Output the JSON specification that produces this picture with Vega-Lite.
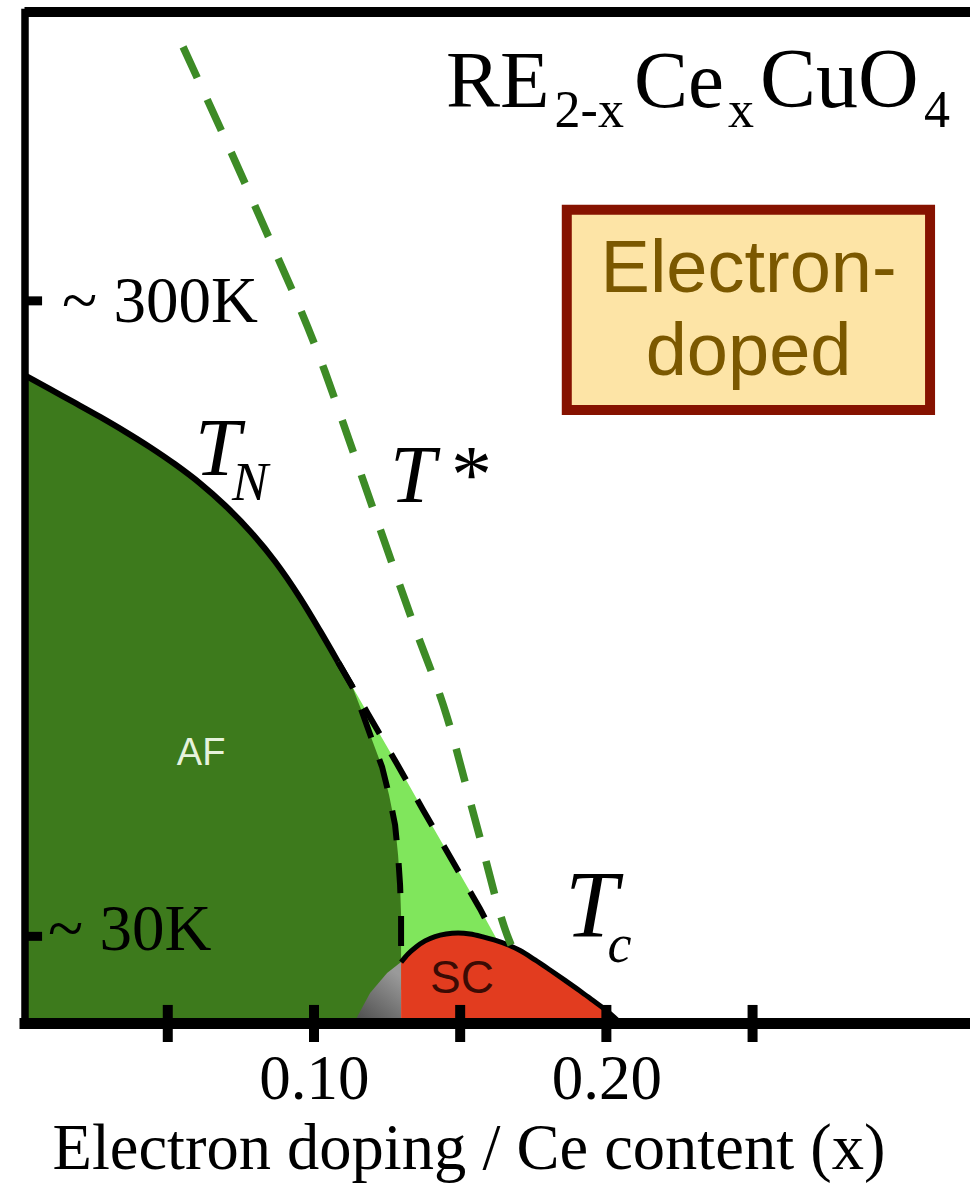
{
  "$schema": "https://vega.github.io/schema/vega-lite/v6.json",
  "width": 945.5,
  "height": 1011,
  "autosize": {"type": "none"},
  "padding": {"left": 24.5, "top": 12, "right": 0, "bottom": 164},
  "background": "white",
  "config": {"view": {"stroke": null}, "axis": {"grid": false}},
  "datasets": {
    "lg": [
      {"i": 0, "x": 0.10824, "T": 150.0}, {"i": 1, "x": 0.11850, "T": 128.4}, {"i": 2, "x": 0.12842, "T": 107.6},
      {"i": 3, "x": 0.13731, "T": 88.5}, {"i": 4, "x": 0.14757, "T": 66.9}, {"i": 5, "x": 0.15681, "T": 47.4},
      {"i": 6, "x": 0.16228, "T": 35.3}, {"i": 7, "x": 0.12979, "T": 13.7}, {"i": 8, "x": 0.10893, "T": 134.2}
    ],
    "af": [
      {"i": 0, "x": 0.001, "T": 0}, {"i": 1, "x": 0.001, "T": 269.2}, {"i": 2, "x": 0.00975, "T": 263.3},
      {"i": 3, "x": 0.01830, "T": 257.6}, {"i": 4, "x": 0.02685, "T": 251.8}, {"i": 5, "x": 0.03540, "T": 245.7},
      {"i": 6, "x": 0.04395, "T": 239.2}, {"i": 7, "x": 0.05250, "T": 232.1}, {"i": 8, "x": 0.06105, "T": 224.2},
      {"i": 9, "x": 0.06960, "T": 215.0}, {"i": 10, "x": 0.07815, "T": 204.3}, {"i": 11, "x": 0.08670, "T": 191.7},
      {"i": 12, "x": 0.09525, "T": 176.6}, {"i": 13, "x": 0.10209, "T": 162.9}, {"i": 14, "x": 0.10824, "T": 150.0},
      {"i": 15, "x": 0.11303, "T": 140.0}, {"i": 16, "x": 0.11645, "T": 129.2}, {"i": 17, "x": 0.11987, "T": 117.6},
      {"i": 18, "x": 0.12329, "T": 106.4}, {"i": 19, "x": 0.12568, "T": 94.7}, {"i": 20, "x": 0.12774, "T": 82.3},
      {"i": 21, "x": 0.12876, "T": 69.8}, {"i": 22, "x": 0.12945, "T": 57.3}, {"i": 23, "x": 0.12979, "T": 44.9},
      {"i": 24, "x": 0.12979, "T": 25.3}, {"i": 25, "x": 0.12979, "T": 0}
    ],
    "tn": [
      {"i": 1, "x": 0.001, "T": 269.2}, {"i": 2, "x": 0.00975, "T": 263.3}, {"i": 3, "x": 0.01830, "T": 257.6},
      {"i": 4, "x": 0.02685, "T": 251.8}, {"i": 5, "x": 0.03540, "T": 245.7}, {"i": 6, "x": 0.04395, "T": 239.2},
      {"i": 7, "x": 0.05250, "T": 232.1}, {"i": 8, "x": 0.06105, "T": 224.2}, {"i": 9, "x": 0.06960, "T": 215.0},
      {"i": 10, "x": 0.07815, "T": 204.3}, {"i": 11, "x": 0.08670, "T": 191.7}, {"i": 12, "x": 0.09525, "T": 176.6},
      {"i": 13, "x": 0.10209, "T": 162.9}, {"i": 14, "x": 0.10824, "T": 150.0}
    ],
    "gr": [
      {"i": 0, "x": 0.11406, "T": 0}, {"i": 1, "x": 0.11474, "T": 2.5}, {"i": 2, "x": 0.11919, "T": 12.5},
      {"i": 3, "x": 0.12500, "T": 20.8}, {"i": 4, "x": 0.12979, "T": 25.3}, {"i": 5, "x": 0.12979, "T": 0}
    ],
    "sc": [
      {"i": 0, "x": 0.12979, "T": 0},
      {"i": 1, "x": 0.12979, "T": 25.3}, {"i": 2, "x": 0.13218, "T": 28.7}, {"i": 3, "x": 0.13492, "T": 31.6},
      {"i": 4, "x": 0.13799, "T": 34.1}, {"i": 5, "x": 0.14141, "T": 35.9}, {"i": 6, "x": 0.14518, "T": 37.0},
      {"i": 7, "x": 0.14928, "T": 37.4}, {"i": 8, "x": 0.15339, "T": 37.0}, {"i": 9, "x": 0.15749, "T": 35.9},
      {"i": 10, "x": 0.16160, "T": 34.5}, {"i": 11, "x": 0.16604, "T": 32.6}, {"i": 12, "x": 0.17049, "T": 30.1},
      {"i": 13, "x": 0.17561, "T": 26.2}, {"i": 14, "x": 0.18075, "T": 22.0}, {"i": 15, "x": 0.18588, "T": 17.7},
      {"i": 16, "x": 0.19101, "T": 13.3}, {"i": 17, "x": 0.19545, "T": 9.3}, {"i": 18, "x": 0.19956, "T": 5.6},
      {"i": 19, "x": 0.20263, "T": 2.5}, {"i": 20, "x": 0.20469, "T": 0}
    ],
    "dome": [
      {"i": 1, "x": 0.12979, "T": 25.3}, {"i": 2, "x": 0.13218, "T": 28.7}, {"i": 3, "x": 0.13492, "T": 31.6},
      {"i": 4, "x": 0.13799, "T": 34.1}, {"i": 5, "x": 0.14141, "T": 35.9}, {"i": 6, "x": 0.14518, "T": 37.0},
      {"i": 7, "x": 0.14928, "T": 37.4}, {"i": 8, "x": 0.15339, "T": 37.0}, {"i": 9, "x": 0.15749, "T": 35.9},
      {"i": 10, "x": 0.16160, "T": 34.5}, {"i": 11, "x": 0.16604, "T": 32.6}, {"i": 12, "x": 0.17049, "T": 30.1},
      {"i": 13, "x": 0.17561, "T": 26.2}, {"i": 14, "x": 0.18075, "T": 22.0}, {"i": 15, "x": 0.18588, "T": 17.7},
      {"i": 16, "x": 0.19101, "T": 13.3}, {"i": 17, "x": 0.19545, "T": 9.3}, {"i": 18, "x": 0.19956, "T": 5.6},
      {"i": 19, "x": 0.20263, "T": 2.5}, {"i": 20, "x": 0.20469, "T": 0}
    ],
    "up": [
      {"i": 0, "x": 0.10824, "T": 150.0}, {"i": 1, "x": 0.11850, "T": 128.4}, {"i": 2, "x": 0.12842, "T": 107.6},
      {"i": 3, "x": 0.13731, "T": 88.5}, {"i": 4, "x": 0.14757, "T": 66.9}, {"i": 5, "x": 0.15681, "T": 47.4},
      {"i": 6, "x": 0.16142, "T": 36.6}
    ],
    "inn": [
      {"i": 0, "x": 0.10824, "T": 150.0}, {"i": 1, "x": 0.11303, "T": 140.0}, {"i": 2, "x": 0.11645, "T": 129.2},
      {"i": 3, "x": 0.11987, "T": 117.6}, {"i": 4, "x": 0.12329, "T": 106.4}, {"i": 5, "x": 0.12568, "T": 94.7},
      {"i": 6, "x": 0.12774, "T": 82.3}, {"i": 7, "x": 0.12876, "T": 69.8}, {"i": 8, "x": 0.12945, "T": 57.3},
      {"i": 9, "x": 0.12979, "T": 44.9}, {"i": 10, "x": 0.12979, "T": 25.3}
    ],
    "ts": [
      {"i": 0, "x": 0.05523, "T": 405.5}, {"i": 1, "x": 0.08088, "T": 336.5}, {"i": 2, "x": 0.10380, "T": 270.5},
      {"i": 3, "x": 0.11200, "T": 242.2}, {"i": 4, "x": 0.13355, "T": 167.4}, {"i": 5, "x": 0.14552, "T": 127.1},
      {"i": 6, "x": 0.15578, "T": 81.4}, {"i": 7, "x": 0.16604, "T": 36.6}, {"i": 8, "x": 0.16741, "T": 32.4}
    ],
    "box": [{"x": 0.18646, "x2": 0.31070, "T": 337.8, "T2": 254.7}],
    "boxText": [{"label": "Electron-", "x": 0.24863, "T": 303.7}, {"label": "doped", "x": 0.24863, "T": 269.2}],
    "serifBig": [{"label": "RE", "x": 0.14518, "T": 380.5}, {"label": "Ce", "x": 0.20947, "T": 380.5}],
    "serifBig2": [{"label": "CuO", "x": 0.25257, "T": 380.5}],
    "serifSub": [{"label": "2-x", "x": 0.18229, "T": 372.2}, {"label": "x", "x": 0.24162, "T": 372.2}, {"label": "4", "x": 0.30865, "T": 372.2}],
    "ylab": [{"label": "~ 300K", "x": 0.01385, "T": 291.2}, {"label": "~ 30K", "x": 0.00906, "T": 30.3}],
    "itBig": [{"label": "T", "x": 0.05934, "T": 227.7}, {"label": "T", "x": 0.12603, "T": 216.4}],
    "itTc": [{"label": "T", "x": 0.18588, "T": 35.7}],
    "itSub": [{"label": "N", "x": 0.07199, "T": 217.3}, {"label": "c", "x": 0.20041, "T": 25.3}],
    "star": [{"label": "*", "x": 0.14689, "T": 216.4}],
    "afText": [{"label": "AF", "x": 0.06139, "T": 107.2}],
    "scText": [{"label": "SC", "x": 0.15065, "T": 12.5}],
    "xticks": [{"x": 0.05}, {"x": 0.10}, {"x": 0.15}, {"x": 0.20}, {"x": 0.25}],
    "yticks": [{"T": 300}, {"T": 36}]
  },
  "layer": [
    {
      "data": {"name": "lg"},
      "mark": {"type": "line", "fill": "#80e65c", "strokeWidth": 0},
      "encoding": {
        "x": {
          "field": "x", "type": "quantitative",
          "scale": {"domain": [0.001, 0.32436], "nice": false, "zero": false},
          "axis": {
            "values": [0.1, 0.2], "format": ".2f",
            "ticks": false, "tickSize": 0,
            "labelFont": "Liberation Serif", "labelFontSize": 63, "labelColor": "#000000",
            "labelBaseline": "alphabetic", "labelPadding": 75, "labelFlush": false, "labelOverlap": false, "labelBound": false,
            "domainWidth": 11, "domainColor": "#000000", "domainCap": "square",
            "title": "Electron doping / Ce content (x)",
            "titleFont": "Liberation Serif", "titleFontSize": 64.5, "titleFontWeight": "normal", "titleColor": "#000000",
            "titleAnchor": "start", "titleAlign": "left", "titleBaseline": "alphabetic", "titleX": 27.5, "titleY": 145,
            "zindex": 1
          }
        },
        "y": {
          "field": "T", "type": "quantitative",
          "scale": {"domain": [0, 420], "nice": false, "zero": false},
          "axis": {
            "labels": false, "ticks": false, "title": null,
            "domainWidth": 7.5, "domainColor": "#000000", "domainCap": "square", "zindex": 1
          }
        },
        "order": {"field": "i"}
      }
    },
    {
      "data": {"name": "af"},
      "mark": {"type": "line", "fill": "#3d7a1c", "strokeWidth": 0},
      "encoding": {
        "x": {"field": "x", "type": "quantitative"},
        "y": {"field": "T", "type": "quantitative"},
        "order": {"field": "i"}
      }
    },
    {
      "data": {"name": "gr"},
      "mark": {"type": "line", "strokeWidth": 0, "fill": {"gradient": "linear", "x1": 0, "y1": 1, "x2": 0.6, "y2": 0, "stops": [{"offset": 0, "color": "#4a4a4a"}, {"offset": 1, "color": "#9a9a9a"}]}},
      "encoding": {
        "x": {"field": "x", "type": "quantitative"},
        "y": {"field": "T", "type": "quantitative"},
        "order": {"field": "i"}
      }
    },
    {
      "data": {"name": "sc"},
      "mark": {"type": "line", "fill": "#e23c1f", "strokeWidth": 0},
      "encoding": {
        "x": {"field": "x", "type": "quantitative"},
        "y": {"field": "T", "type": "quantitative"},
        "order": {"field": "i"}
      }
    },
    {
      "data": {"name": "dome"},
      "mark": {"type": "line", "color": "#000000", "strokeWidth": 5, "interpolate": "monotone"},
      "encoding": {
        "x": {"field": "x", "type": "quantitative"},
        "y": {"field": "T", "type": "quantitative"},
        "order": {"field": "i"}
      }
    },
    {
      "data": {"name": "tn"},
      "mark": {"type": "line", "color": "#000000", "strokeWidth": 6, "interpolate": "monotone"},
      "encoding": {
        "x": {"field": "x", "type": "quantitative"},
        "y": {"field": "T", "type": "quantitative"},
        "order": {"field": "i"}
      }
    },
    {
      "data": {"name": "up"},
      "mark": {"type": "line", "color": "#000000", "strokeWidth": 6, "strokeDash": [30, 23]},
      "encoding": {
        "x": {"field": "x", "type": "quantitative"},
        "y": {"field": "T", "type": "quantitative"},
        "order": {"field": "i"}
      }
    },
    {
      "data": {"name": "inn"},
      "mark": {"type": "line", "color": "#000000", "strokeWidth": 6, "strokeDash": [30, 23]},
      "encoding": {
        "x": {"field": "x", "type": "quantitative"},
        "y": {"field": "T", "type": "quantitative"},
        "order": {"field": "i"}
      }
    },
    {
      "data": {"name": "ts"},
      "mark": {"type": "line", "color": "#3d8b26", "strokeWidth": 7.5, "strokeDash": [34, 24], "interpolate": "monotone"},
      "encoding": {
        "x": {"field": "x", "type": "quantitative"},
        "y": {"field": "T", "type": "quantitative"},
        "order": {"field": "i"}
      }
    },
    {
      "data": {"name": "box"},
      "mark": {"type": "rect", "fill": "#fde4a6", "stroke": "#861200", "strokeWidth": 10},
      "encoding": {
        "x": {"field": "x", "type": "quantitative"},
        "x2": {"field": "x2"},
        "y": {"field": "T", "type": "quantitative"},
        "y2": {"field": "T2"}
      }
    },
    {
      "data": {"name": "boxText"},
      "mark": {"type": "text", "font": "Liberation Sans", "fontSize": 74, "color": "#7b5800", "align": "center", "baseline": "alphabetic"},
      "encoding": {
        "x": {"field": "x", "type": "quantitative"},
        "y": {"field": "T", "type": "quantitative"},
        "text": {"field": "label"}
      }
    },
    {
      "data": {"name": "serifBig"},
      "mark": {"type": "text", "font": "Liberation Serif", "fontSize": 81, "color": "#000000", "align": "left", "baseline": "alphabetic"},
      "encoding": {
        "x": {"field": "x", "type": "quantitative"},
        "y": {"field": "T", "type": "quantitative"},
        "text": {"field": "label"}
      }
    },
    {
      "data": {"name": "serifBig2"},
      "mark": {"type": "text", "font": "Liberation Serif", "fontSize": 84, "color": "#000000", "align": "left", "baseline": "alphabetic"},
      "encoding": {
        "x": {"field": "x", "type": "quantitative"},
        "y": {"field": "T", "type": "quantitative"},
        "text": {"field": "label"}
      }
    },
    {
      "data": {"name": "serifSub"},
      "mark": {"type": "text", "font": "Liberation Serif", "fontSize": 52, "color": "#000000", "align": "left", "baseline": "alphabetic"},
      "encoding": {
        "x": {"field": "x", "type": "quantitative"},
        "y": {"field": "T", "type": "quantitative"},
        "text": {"field": "label"}
      }
    },
    {
      "data": {"name": "ylab"},
      "mark": {"type": "text", "font": "Liberation Serif", "fontSize": 65, "color": "#000000", "align": "left", "baseline": "alphabetic"},
      "encoding": {
        "x": {"field": "x", "type": "quantitative"},
        "y": {"field": "T", "type": "quantitative"},
        "text": {"field": "label"}
      }
    },
    {
      "data": {"name": "itBig"},
      "mark": {"type": "text", "font": "Liberation Serif", "fontStyle": "italic", "fontSize": 82, "color": "#000000", "align": "left", "baseline": "alphabetic"},
      "encoding": {
        "x": {"field": "x", "type": "quantitative"},
        "y": {"field": "T", "type": "quantitative"},
        "text": {"field": "label"}
      }
    },
    {
      "data": {"name": "itTc"},
      "mark": {"type": "text", "font": "Liberation Serif", "fontStyle": "italic", "fontSize": 95, "color": "#000000", "align": "left", "baseline": "alphabetic"},
      "encoding": {
        "x": {"field": "x", "type": "quantitative"},
        "y": {"field": "T", "type": "quantitative"},
        "text": {"field": "label"}
      }
    },
    {
      "data": {"name": "itSub"},
      "mark": {"type": "text", "font": "Liberation Serif", "fontStyle": "italic", "fontSize": 54, "color": "#000000", "align": "left", "baseline": "alphabetic"},
      "encoding": {
        "x": {"field": "x", "type": "quantitative"},
        "y": {"field": "T", "type": "quantitative"},
        "text": {"field": "label"}
      }
    },
    {
      "data": {"name": "star"},
      "mark": {"type": "text", "font": "Liberation Serif", "fontSize": 82, "color": "#000000", "align": "left", "baseline": "alphabetic"},
      "encoding": {
        "x": {"field": "x", "type": "quantitative"},
        "y": {"field": "T", "type": "quantitative"},
        "text": {"field": "label"}
      }
    },
    {
      "data": {"name": "afText"},
      "mark": {"type": "text", "font": "Liberation Sans", "fontSize": 38, "color": "#e6f2dc", "align": "center", "baseline": "alphabetic"},
      "encoding": {
        "x": {"field": "x", "type": "quantitative"},
        "y": {"field": "T", "type": "quantitative"},
        "text": {"field": "label"}
      }
    },
    {
      "data": {"name": "scText"},
      "mark": {"type": "text", "font": "Liberation Sans", "fontSize": 46, "color": "#3b0b04", "align": "center", "baseline": "alphabetic"},
      "encoding": {
        "x": {"field": "x", "type": "quantitative"},
        "y": {"field": "T", "type": "quantitative"},
        "text": {"field": "label"}
      }
    },
    {
      "data": {"values": [{"edge": "top"}]},
      "mark": {"type": "rule", "color": "#000000", "strokeWidth": 10},
      "encoding": {"y": {"datum": 420, "type": "quantitative"}}
    },
    {
      "data": {"name": "xticks"},
      "mark": {"type": "rule", "color": "#000000", "strokeWidth": 10},
      "encoding": {
        "x": {"field": "x", "type": "quantitative"},
        "y": {"datum": -7.9, "type": "quantitative"},
        "y2": {"datum": 7.5}
      }
    },
    {
      "data": {"name": "yticks"},
      "mark": {"type": "rule", "color": "#000000", "strokeWidth": 9},
      "encoding": {
        "y": {"field": "T", "type": "quantitative"},
        "x": {"datum": 0.001, "type": "quantitative"},
        "x2": {"datum": 0.00701}
      }
    }
  ]
}
